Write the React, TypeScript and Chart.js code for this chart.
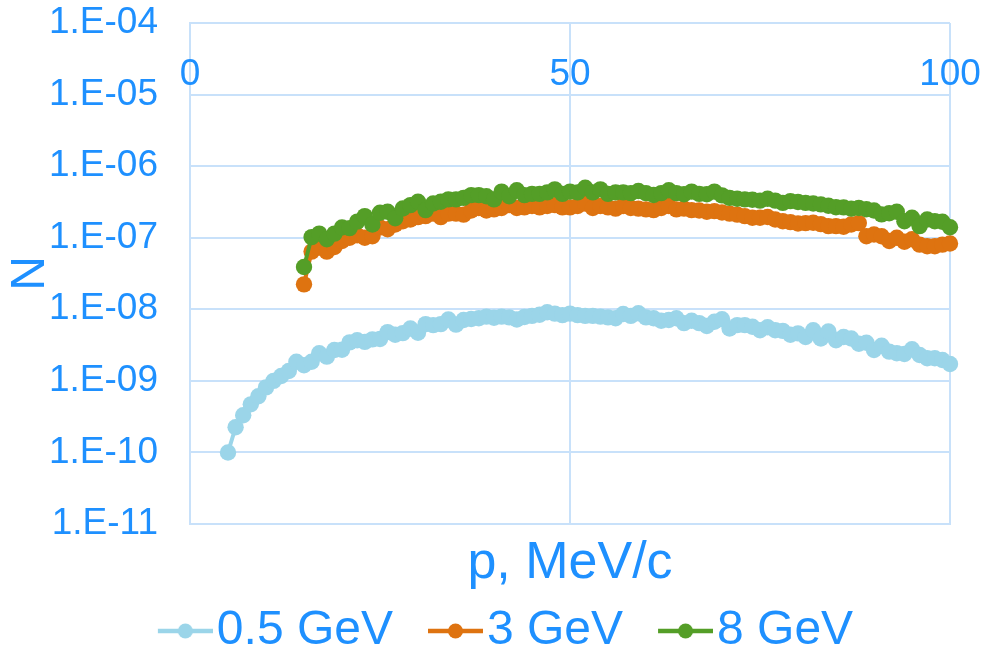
import React, { useEffect, useRef } from 'react';
import { Chart, registerables } from 'chart.js';

Chart.register(...registerables);

// ---------- data ----------
const momentum = [
  5, 6, 7, 8, 9, 10, 11, 12, 13, 14,
  15, 16, 17, 18, 19, 20, 21, 22, 23, 24,
  25, 26, 27, 28, 29, 30, 31, 32, 33, 34,
  35, 36, 37, 38, 39, 40, 41, 42, 43, 44,
  45, 46, 47, 48, 49, 50, 51, 52, 53, 54,
  55, 56, 57, 58, 59, 60, 61, 62, 63, 64,
  65, 66, 67, 68, 69, 70, 71, 72, 73, 74,
  75, 76, 77, 78, 79, 80, 81, 82, 83, 84,
  85, 86, 87, 88, 89, 90, 91, 92, 93, 94,
  95, 96, 97, 98, 99, 100,
];

const series05GeV = [
  1.0e-10, 2.25e-10, 3.3e-10, 4.7e-10, 6.1e-10, 8.1e-10, 1.0e-9, 1.17e-9, 1.37e-9, 1.85e-9,
  1.65e-9, 1.85e-9, 2.43e-9, 2.18e-9, 2.7e-9, 2.72e-9, 3.45e-9, 3.7e-9, 3.5e-9, 3.8e-9,
  3.85e-9, 4.8e-9, 4.4e-9, 4.65e-9, 5.4e-9, 4.7e-9, 6.2e-9, 6.0e-9, 6.2e-9, 7.2e-9,
  6.1e-9, 7.1e-9, 7.3e-9, 7.5e-9, 7.9e-9, 7.6e-9, 7.9e-9, 7.7e-9, 7.2e-9, 7.8e-9,
  8.1e-9, 8.4e-9, 9.1e-9, 8.7e-9, 8.3e-9, 8.7e-9, 8.3e-9, 8.1e-9, 8.1e-9, 7.9e-9,
  7.7e-9, 7.5e-9, 8.6e-9, 8.1e-9, 8.8e-9, 7.7e-9, 7.5e-9, 6.9e-9, 7.1e-9, 7.5e-9,
  6.4e-9, 6.9e-9, 6.4e-9, 5.84e-9, 6.7e-9, 7.25e-9, 5.4e-9, 6.0e-9, 6.0e-9, 5.7e-9,
  5.1e-9, 5.6e-9, 5.1e-9, 5.0e-9, 4.4e-9, 4.6e-9, 4.1e-9, 5.1e-9, 3.9e-9, 4.9e-9,
  3.7e-9, 4.1e-9, 3.9e-9, 3.3e-9, 3.4e-9, 2.7e-9, 3.1e-9, 2.56e-9, 2.43e-9, 2.37e-9,
  2.76e-9, 2.3e-9, 2.07e-9, 2.07e-9, 1.96e-9, 1.72e-9,
];

const series3GeV = [
  null, null, null, null, null, null, null, null, null, null,
  2.23e-8, 6.4e-8, 7.3e-8, 6.4e-8, 7.4e-8, 9.0e-8, 1.0e-7, 1.08e-7, 1.0e-7, 1.05e-7,
  1.39e-7, 1.31e-7, 1.53e-7, 1.7e-7, 1.8e-7, 1.94e-7, 2.0e-7, 2.17e-7, 1.94e-7, 2.17e-7,
  2.17e-7, 2.1e-7, 2.4e-7, 2.6e-7, 2.4e-7, 2.49e-7, 2.6e-7, 2.85e-7, 2.6e-7, 2.65e-7,
  2.77e-7, 2.65e-7, 2.77e-7, 2.85e-7, 2.65e-7, 2.65e-7, 2.77e-7, 3.0e-7, 2.6e-7, 2.77e-7,
  2.65e-7, 2.55e-7, 2.77e-7, 2.6e-7, 2.55e-7, 2.49e-7, 2.43e-7, 2.6e-7, 2.77e-7, 2.49e-7,
  2.55e-7, 2.43e-7, 2.4e-7, 2.3e-7, 2.35e-7, 2.25e-7, 2.17e-7, 2.1e-7, 2.0e-7, 1.9e-7,
  1.9e-7, 1.95e-7, 1.8e-7, 1.7e-7, 1.65e-7, 1.58e-7, 1.6e-7, 1.62e-7, 1.55e-7, 1.45e-7,
  1.45e-7, 1.42e-7, 1.53e-7, 1.6e-7, 1.05e-7, 1.11e-7, 1.05e-7, 9.0e-8, 1.0e-7, 8.8e-8,
  9.5e-8, 8.0e-8, 7.6e-8, 7.6e-8, 8.0e-8, 8.3e-8,
];

const series8GeV = [
  null, null, null, null, null, null, null, null, null, null,
  3.9e-8, 1.02e-7, 1.14e-7, 9.5e-8, 1.14e-7, 1.39e-7, 1.36e-7, 1.68e-7, 2.0e-7, 1.53e-7,
  2.23e-7, 2.3e-7, 1.87e-7, 2.56e-7, 2.85e-7, 3.18e-7, 2.43e-7, 3.0e-7, 3.18e-7, 3.43e-7,
  3.43e-7, 3.6e-7, 3.93e-7, 3.93e-7, 3.8e-7, 3.43e-7, 4.4e-7, 3.8e-7, 4.6e-7, 3.93e-7,
  4.1e-7, 4.1e-7, 4.3e-7, 4.73e-7, 4.1e-7, 4.4e-7, 4.3e-7, 5.0e-7, 4.3e-7, 4.73e-7,
  4.1e-7, 4.3e-7, 4.3e-7, 4.2e-7, 4.5e-7, 4.2e-7, 3.95e-7, 4.2e-7, 4.6e-7, 4.2e-7,
  4.05e-7, 4.4e-7, 4.1e-7, 4.05e-7, 4.4e-7, 3.9e-7, 3.6e-7, 3.5e-7, 3.43e-7, 3.4e-7,
  3.3e-7, 3.5e-7, 3.3e-7, 3.07e-7, 3.25e-7, 3.15e-7, 3.07e-7, 3.0e-7, 2.92e-7, 2.8e-7,
  2.67e-7, 2.65e-7, 2.55e-7, 2.6e-7, 2.5e-7, 2.4e-7, 2.12e-7, 2.2e-7, 2.3e-7, 1.7e-7,
  1.9e-7, 1.45e-7, 1.8e-7, 1.7e-7, 1.67e-7, 1.4e-7,
];

const seriesNames = ['0.5 GeV', '3 GeV', '8 GeV'];
const yTickValues = [1e-11, 1e-10, 1e-9, 1e-8, 1e-7, 1e-6, 1e-5, 1e-4];
const yTickLabels = ['1.E-11', '1.E-10', '1.E-09', '1.E-08', '1.E-07', '1.E-06', '1.E-05', '1.E-04'];
const xTickValues = [0, 50, 100];
const xTickLabels = ['0', '50', '100'];
const xTitle = 'p, MeV/c';
const yTitle = 'N';

// ---------- styles ----------
const FONT = '"Liberation Sans", Arial, Helvetica, sans-serif';
const TEXT = '#1E90FF';
const GRID = '#C8E1FA';
const COLORS = ['#9BD5E9', '#DE7310', '#549E27'];

function makeIcon(color: string): HTMLCanvasElement {
  const c = document.createElement('canvas');
  c.width = 98;
  c.height = 20;
  const g = c.getContext('2d')!;
  g.strokeStyle = color;
  g.lineWidth = 4.5;
  g.beginPath();
  g.moveTo(43, 10);
  g.lineTo(98, 10);
  g.stroke();
  g.fillStyle = color;
  g.beginPath();
  g.arc(70.5, 10, 7.5, 0, Math.PI * 2);
  g.fill();
  return c;
}

const topTickLabels = {
  id: 'topTickLabels',
  afterDraw(chart: any) {
    const xs = chart.scales.x;
    const ctx = chart.ctx;
    ctx.save();
    ctx.font = `37px ${FONT}`;
    ctx.fillStyle = TEXT;
    ctx.textAlign = 'center';
    ctx.textBaseline = 'middle';
    xs.ticks.forEach((t: any) => {
      const idx = xTickValues.indexOf(t.value);
      if (idx < 0) return;
      ctx.fillText(xTickLabels[idx], xs.getPixelForValue(t.value), chart.chartArea.top + 51.5);
    });
    ctx.restore();
  },
};

export default function App() {
  const ref = useRef<HTMLCanvasElement | null>(null);

  useEffect(() => {
    if (!ref.current) return;
    Chart.defaults.font.family = FONT;
    const allSeries = [series05GeV, series3GeV, series8GeV];
    const icons = COLORS.map(makeIcon);
    const datasets = allSeries.map((vals, i) => ({
      label: seriesNames[i],
      data: momentum
        .map((p, k) => ({ x: p, y: vals[k] }))
        .filter((d) => d.y !== null && d.y !== undefined),
      borderColor: COLORS[i],
      backgroundColor: COLORS[i],
      pointBackgroundColor: COLORS[i],
      pointBorderColor: COLORS[i],
      pointBorderWidth: 0,
      pointRadius: 8.2,
      borderWidth: 4,
      tension: 0,
      clip: false as any,
      order: 2 - i,
    }));

    const chart = new Chart(ref.current, {
      type: 'line',
      data: { datasets },
      options: {
        responsive: false,
        animation: false,
        events: [],
        layout: { padding: { top: 23, right: 0, bottom: 15, left: 0 } },
        scales: {
          x: {
            type: 'linear',
            min: 0,
            max: 100,
            afterBuildTicks: (s: any) => {
              s.ticks = xTickValues.map((v) => ({ value: v }));
            },
            afterFit: (s: any) => {
              s.height = 71;
              s.paddingLeft = 0;
              s.paddingRight = 0;
            },
            grid: { color: GRID, lineWidth: 2, drawTicks: false },
            border: { display: true, color: GRID, width: 2 },
            ticks: { display: false },
            title: {
              display: true,
              text: xTitle,
              color: TEXT,
              font: { size: 52 },
              padding: { top: 0, bottom: 0 },
            },
          },
          y: {
            type: 'logarithmic',
            min: 1e-11,
            max: 1e-4,
            afterBuildTicks: (s: any) => {
              s.ticks = yTickValues.map((v) => ({ value: v }));
            },
            afterFit: (s: any) => {
              s.width = 190;
              s.paddingTop = 0;
              s.paddingBottom = 0;
            },
            grid: { color: GRID, lineWidth: 2, drawTicks: false },
            border: { display: true, color: GRID, width: 2 },
            ticks: {
              color: TEXT,
              font: { size: 37 },
              padding: 32,
              autoSkip: false,
              callback: (_v: any, i: number) => yTickLabels[i],
            },
            title: {
              display: true,
              text: yTitle,
              color: TEXT,
              font: { size: 48 },
              padding: { top: 2, bottom: 0 },
            },
          },
          y2: {
            type: 'linear',
            position: 'right',
            display: true,
            grid: { display: false, drawTicks: false },
            border: { display: false },
            ticks: { display: false },
            afterFit: (s: any) => {
              s.width = 38;
              s.paddingTop = 0;
              s.paddingBottom = 0;
            },
          },
        },
        plugins: {
          tooltip: { enabled: false },
          legend: {
            position: 'bottom',
            labels: {
              usePointStyle: true,
              pointStyleWidth: 58,
              padding: 12,
              color: TEXT,
              font: { size: 48 },
              generateLabels: (c: any) =>
                c.data.datasets.map((ds: any, i: number) => ({
                  text: ds.label,
                  fillStyle: COLORS[i],
                  strokeStyle: COLORS[i],
                  fontColor: TEXT,
                  lineWidth: 0,
                  pointStyle: icons[i],
                  hidden: false,
                  datasetIndex: i,
                })),
            },
          },
        },
      } as any,
      plugins: [topTickLabels],
    });
    return () => chart.destroy();
  }, []);

  return (
    <div
      style={{
        position: 'fixed',
        left: 0,
        top: 0,
        width: 988,
        height: 654,
        overflow: 'hidden',
        background: '#ffffff',
      }}
    >
      <canvas ref={ref} width={988} height={680} style={{ display: 'block' }} />
    </div>
  );
}
